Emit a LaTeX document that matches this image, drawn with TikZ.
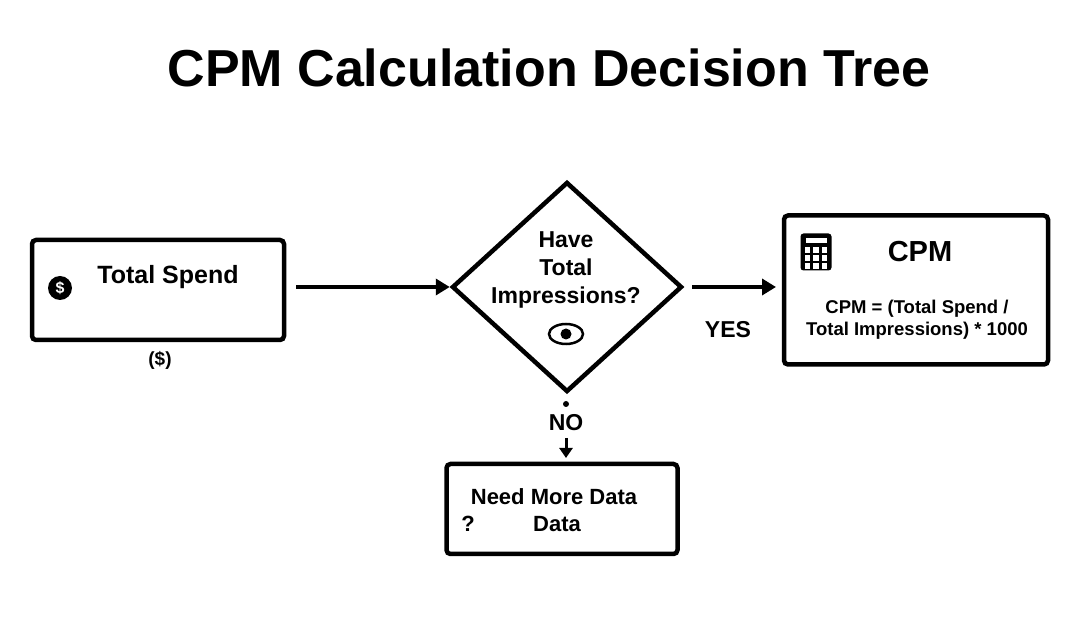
\documentclass[tikz,border=0pt]{standalone}
\usepackage{fontspec}
\setmainfont{Liberation Sans}
\usetikzlibrary{shapes.geometric,arrows.meta}
\begin{document}
\begin{tikzpicture}[x=1pt,y=-1pt,
  box/.style={draw,line width=4.5pt,rounded corners=4pt},
  lbl/.style={font=\bfseries,inner sep=0},
  arr/.style={line width=3.5pt,-{Triangle[length=14pt,width=16pt]}}]
\useasboundingbox (0,0) rectangle (1080,617);
\node[lbl,font=\bfseries\fontsize{52}{58}\selectfont] (title) at (549,68) {CPM Calculation Decision Tree};
% Total spend
\node[box,minimum width=252pt,minimum height=100pt] (spend) at (158,290) {};
\node[lbl,font=\bfseries\fontsize{25}{28}\selectfont] (spendt) at (168,277) {Total Spend};
\node[circle,fill=black,minimum size=24pt,inner sep=0,text=white,font=\bfseries\fontsize{16}{17}\selectfont] (dollar) at (60,288) {\$};
\node[lbl,font=\bfseries\fontsize{19}{21}\selectfont] (unit) at (160,360) {(\$)};
% diamond
\node[draw,diamond,line width=4.5pt,minimum width=230pt,minimum height=210pt,inner sep=0] (dec) at (567,287) {};
\node[lbl,align=center,font=\bfseries\fontsize{23}{28}\selectfont] (dect) at (566,270) {Have\\Total\\Impressions?};
\node[draw,line width=2.5pt,ellipse,minimum width=34pt,minimum height=20pt,inner sep=0] (eye) at (566,334) {};
\node[circle,fill=black,minimum size=11pt,inner sep=0] (pupil) at (566,334) {};
% CPM box
\node[box,minimum width=264pt,minimum height=149pt] (cpm) at (916,290) {};
\node[lbl,font=\bfseries\fontsize{29}{32}\selectfont] (cpmt) at (920,252) {CPM};
\node[lbl,align=center,font=\bfseries\fontsize{18.5}{22}\selectfont] (form) at (917,320) {CPM = (Total Spend /\\Total Impressions) * 1000};
\node[fill=black,rounded corners=3pt,minimum width=31pt,minimum height=37pt,inner sep=0] (calc) at (816,252) {};
\node[fill=white,minimum width=21pt,minimum height=5pt,inner sep=0] (screen) at (816,241) {};
\foreach \i in {-1,0,1}{\foreach \j in {0,1,2}{
  \node[fill=white,minimum size=5.5pt,inner sep=0] (k\i\j) at (816+8.5*\i,250+8*\j) {};}}
% arrows
\coordinate (s1) at (296,287);
\draw[arr] (s1) -- (dec.west);
\coordinate (a1) at (692,287);
\coordinate (a2) at (776,287);
\draw[arr] (a1) -- (a2);
\node[lbl,font=\bfseries\fontsize{23}{26}\selectfont] (yes) at (728,330) {YES};
% NO branch
\node[box,minimum width=231pt,minimum height=90pt] (need) at (562,509) {};
\node[lbl,font=\bfseries\fontsize{22}{25}\selectfont] (needt) at (554,497) {Need More Data};
\node[lbl,font=\bfseries\fontsize{22}{25}\selectfont] (q) at (468,524) {?};
\node[lbl,font=\bfseries\fontsize{22}{25}\selectfont] (needd) at (557,524) {Data};
\fill (566,404) circle (3pt);
\node[lbl,font=\bfseries\fontsize{23}{26}\selectfont] (no) at (566,423) {NO};
\coordinate (n1) at (566,438);
\coordinate (n2) at (566,458);
\draw[line width=3pt,-{Triangle[length=10pt,width=13pt]}] (n1) -- (n2);
\end{tikzpicture}
\end{document}
